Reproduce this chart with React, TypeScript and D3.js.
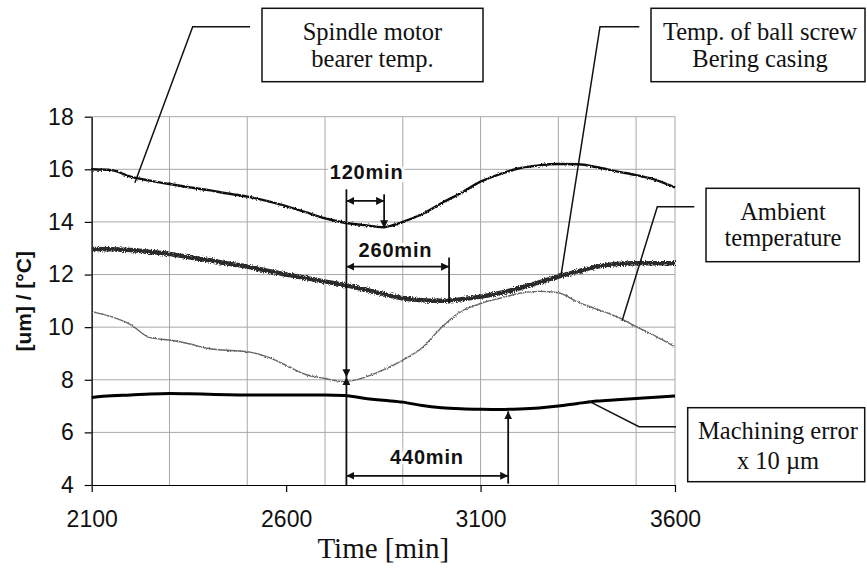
import React, { useEffect, useRef } from 'react';
import * as d3 from 'd3';

// time axis samples [min]
const times = [
  2100, 2150, 2200, 2250, 2300, 2350, 2400, 2450, 2500, 2550, 2600,
  2650, 2700, 2750, 2800, 2850, 2900, 2950, 3000, 3050, 3100,
  3150, 3200, 3250, 3300, 3350, 3400, 3450, 3500, 3550, 3600,
];

const spindleTemp = [
  16.0, 15.97, 15.72, 15.57, 15.44, 15.32, 15.21, 15.08, 14.96, 14.8, 14.6,
  14.37, 14.14, 13.97, 13.88, 13.8, 14.0, 14.3, 14.72, 15.1, 15.53,
  15.82, 16.04, 16.15, 16.2, 16.19, 16.08, 15.92, 15.78, 15.6, 15.31,
];

const ballScrewTemp = [
  12.97, 12.96, 12.93, 12.86, 12.78, 12.66, 12.55, 12.42, 12.3, 12.15, 12.0,
  11.87, 11.73, 11.6, 11.44, 11.26, 11.1, 11.02, 11.0, 11.06, 11.16,
  11.3, 11.48, 11.7, 11.92, 12.12, 12.3, 12.4, 12.43, 12.43, 12.43,
];

const ambientTemp = [
  10.59, 10.4, 10.1, 9.6, 9.51, 9.37, 9.19, 9.12, 9.07, 8.88, 8.55,
  8.2, 8.05, 7.93, 8.08, 8.38, 8.75, 9.22, 10.0, 10.6, 10.9,
  11.1, 11.29, 11.36, 11.31, 10.95, 10.68, 10.4, 10.02, 9.66, 9.25,
];

const machiningError = [
  7.33, 7.39, 7.42, 7.46, 7.48, 7.47, 7.45, 7.43, 7.42, 7.42, 7.42,
  7.42, 7.42, 7.4, 7.3, 7.22, 7.15, 7.02, 6.94, 6.9, 6.88,
  6.87, 6.89, 6.93, 7.0, 7.1, 7.19, 7.24, 7.29, 7.34, 7.38,
];

const xTickValues = [2100, 2600, 3100, 3600];
const yTickValues = [4, 6, 8, 10, 12, 14, 16, 18];

// callout labels and the point on the curve each one points to
const calloutLines = [
  ['Spindle motor', 'bearer temp.'],
  ['Temp. of ball screw', 'Bering casing'],
  ['Ambient', 'temperature'],
  ['Machining error', 'x 10 \u00b5m'],
];
const calloutTargetTime = [2211, 3307, 3464, 3377];
const calloutTargetValue = [15.49, 11.98, 10.24, 7.2];

// delay annotations
const delayStart = 2755;
const delayLabels = ['120min', '260min', '440min'];
const delayEnd = [2852, 3019, 3171];

const sans = '"Liberation Sans", Arial, sans-serif';
const serif = '"Liberation Serif", "Times New Roman", serif';

const W = 867;
const H = 570;
const left = 91.7;
const right = 675;
const top = 116.7;
const bottom = 485;

// box geometry for the callouts (pixels)
const boxes = [
  { x: 262, y: 8.3, w: 221, h: 73.4, lineStart: 250, elbowX: 192.7, elbowY: 26.7, tx: 372.5, b1: 39.5, b2: 66.5 },
  { x: 651, y: 8.3, w: 214, h: 73.4, lineStart: 639.3, elbowX: 600, elbowY: 26.7, tx: 760, b1: 39.5, b2: 66.5 },
  { x: 706, y: 188.3, w: 153.3, h: 73.4, lineStart: 694.3, elbowX: 657.3, elbowY: 206.7, tx: 783, b1: 219.5, b2: 245.5 },
  { x: 687.7, y: 407.7, w: 177, h: 74, lineStart: 676, elbowX: 639, elbowY: 426.7, tx: 778, b1: 438.5, b2: 468.5 },
];

export default function App() {
  const xAxisRef = useRef<SVGGElement>(null);
  const yAxisRef = useRef<SVGGElement>(null);

  const x = d3.scaleLinear().domain([2100, 3600]).range([left, right]);
  const y = d3.scaleLinear().domain([4, 18]).range([bottom, top]);

  useEffect(() => {
    const xa = d3
      .select(xAxisRef.current)
      .call(
        d3
          .axisBottom(x)
          .tickValues(xTickValues)
          .tickSize(7)
          .tickSizeOuter(0)
          .tickPadding(19)
          .tickFormat(d3.format('d'))
      );
    xa.attr('font-size', 23).attr('font-family', sans);
    xa.select('.domain').attr('stroke', '#000').attr('stroke-width', 1.2);
    xa.selectAll('line').attr('stroke', '#000').attr('stroke-width', 1.2);
    xa.selectAll('text').attr('fill', '#111');

    const ya = d3
      .select(yAxisRef.current)
      .call(
        d3
          .axisLeft(y)
          .tickValues(yTickValues)
          .tickSize(7)
          .tickSizeOuter(0)
          .tickPadding(11)
      );
    ya.attr('font-size', 23).attr('font-family', sans);
    ya.select('.domain').attr('stroke', '#000').attr('stroke-width', 1.2);
    ya.selectAll('line').attr('stroke', '#000').attr('stroke-width', 1.2);
    ya.selectAll('text').attr('fill', '#111');
  }, []);

  const line = d3
    .line<number>()
    .x((_, i) => x(times[i]))
    .y((d) => y(d))
    .curve(d3.curveMonotoneX);

  const vGrid = d3.range(2100, 3601, 200).concat([3600]);
  const hGrid = d3.range(6, 18.1, 2);

  const x0 = x(delayStart);

  return (
    <svg
      width={W}
      height={H}
      style={{ position: 'absolute', left: 0, top: 0, background: '#fff' }}
    >
      <defs>
        <marker
          id="arr"
          viewBox="0 0 10 10"
          refX="10"
          refY="5"
          markerWidth="8"
          markerHeight="8"
          markerUnits="userSpaceOnUse"
          orient="auto-start-reverse"
        >
          <path d="M0,0 L10,5 L0,10 z" fill="#111" />
        </marker>
        <filter id="rough" filterUnits="userSpaceOnUse" x="0" y="0" width={W} height={H}>
          <feTurbulence type="fractalNoise" baseFrequency="0.9" numOctaves="1" seed="4" />
          <feDisplacementMap in="SourceGraphic" scale="5" xChannelSelector="R" yChannelSelector="G" />
        </filter>
        <filter id="roughSoft" filterUnits="userSpaceOnUse" x="0" y="0" width={W} height={H}>
          <feTurbulence type="fractalNoise" baseFrequency="0.8" numOctaves="1" seed="9" />
          <feDisplacementMap in="SourceGraphic" scale="3" xChannelSelector="R" yChannelSelector="G" />
        </filter>
      </defs>

      {/* grid */}
      <g stroke="#a8a8a8" strokeWidth={1}>
        {vGrid.map((t, i) => (
          <line key={'v' + i} x1={x(t)} x2={x(t)} y1={top} y2={bottom} />
        ))}
        {hGrid.map((v, i) => (
          <line key={'h' + i} x1={left} x2={right} y1={y(v)} y2={y(v)} />
        ))}
      </g>

      <g ref={xAxisRef} transform={`translate(0,${bottom})`} />
      <g ref={yAxisRef} transform={`translate(${left},0)`} />

      {/* series */}
      <path d={line(ambientTemp) || ''} fill="none" stroke="#666" strokeWidth={1.4} filter="url(#roughSoft)" />
      <path d={line(ballScrewTemp) || ''} fill="none" stroke="#2a2a2a" strokeWidth={4.5} filter="url(#rough)" />
      <path d={line(spindleTemp) || ''} fill="none" stroke="#111" strokeWidth={2.4} filter="url(#roughSoft)" />
      <path d={line(machiningError) || ''} fill="none" stroke="#000" strokeWidth={3} />

      {/* delay annotations */}
      <g stroke="#111" strokeWidth={1.8} fill="none">
        <line x1={x0} x2={x0} y1={y(15.24)} y2={y(8.1)} markerEnd="url(#arr)" />
        <line x1={x0} x2={x0} y1={bottom} y2={y(8.1)} markerEnd="url(#arr)" />

        <line x1={x0} x2={x(delayEnd[0])} y1={y(14.8)} y2={y(14.8)} markerStart="url(#arr)" markerEnd="url(#arr)" />
        <line x1={x(delayEnd[0])} x2={x(delayEnd[0])} y1={y(15.05)} y2={y(13.76)} markerEnd="url(#arr)" />

        <line x1={x0} x2={x(delayEnd[1])} y1={y(12.3)} y2={y(12.3)} markerStart="url(#arr)" markerEnd="url(#arr)" />
        <line x1={x(delayEnd[1])} x2={x(delayEnd[1])} y1={y(12.65)} y2={y(10.9)} />

        <line x1={x0} x2={x(delayEnd[2])} y1={y(4.35)} y2={y(4.35)} markerStart="url(#arr)" markerEnd="url(#arr)" />
        <line x1={x(delayEnd[2])} x2={x(delayEnd[2])} y1={y(4.05)} y2={y(6.8)} markerEnd="url(#arr)" />
      </g>
      <g
        fontFamily={sans}
        fontWeight="bold"
        fontSize={20}
        letterSpacing={0.8}
        textAnchor="middle"
        fill="#111"
        stroke="#fff"
        strokeWidth={6}
        style={{ paintOrder: 'stroke' }}
      >
        <text x={x(2807)} y={y(15.62)}>{delayLabels[0]}</text>
        <text x={x(2881)} y={y(12.68)}>{delayLabels[1]}</text>
        <text x={x(2962)} y={y(4.8)}>{delayLabels[2]}</text>
      </g>

      {/* callouts */}
      {boxes.map((b, i) => (
        <g key={'c' + i}>
          <polyline
            points={`${b.lineStart},${b.elbowY} ${b.elbowX},${b.elbowY} ${x(calloutTargetTime[i])},${y(calloutTargetValue[i])}`}
            fill="none"
            stroke="#111"
            strokeWidth={1.5}
          />
          <rect x={b.x} y={b.y} width={b.w} height={b.h} fill="#fff" stroke="#111" strokeWidth={1.5} />
          <text x={b.tx} y={b.b1} textAnchor="middle" fontFamily={serif} fontSize={24.5} fill="#111">
            {calloutLines[i][0]}
          </text>
          <text x={b.tx} y={b.b2} textAnchor="middle" fontFamily={serif} fontSize={24.5} fill="#111">
            {calloutLines[i][1]}
          </text>
        </g>
      ))}

      {/* axis titles */}
      <text
        transform={`translate(23,${(top + bottom) / 2 + 0.5}) rotate(-90)`}
        textAnchor="middle"
        dominantBaseline="central"
        fontFamily={sans}
        fontWeight="bold"
        fontSize={21}
        fill="#111"
      >
        [um] / [°C]
      </text>
      <text
        x={(left + right) / 2}
        y={558}
        textAnchor="middle"
        fontFamily={serif}
        fontSize={29}
        fill="#111"
      >
        Time [min]
      </text>
    </svg>
  );
}
